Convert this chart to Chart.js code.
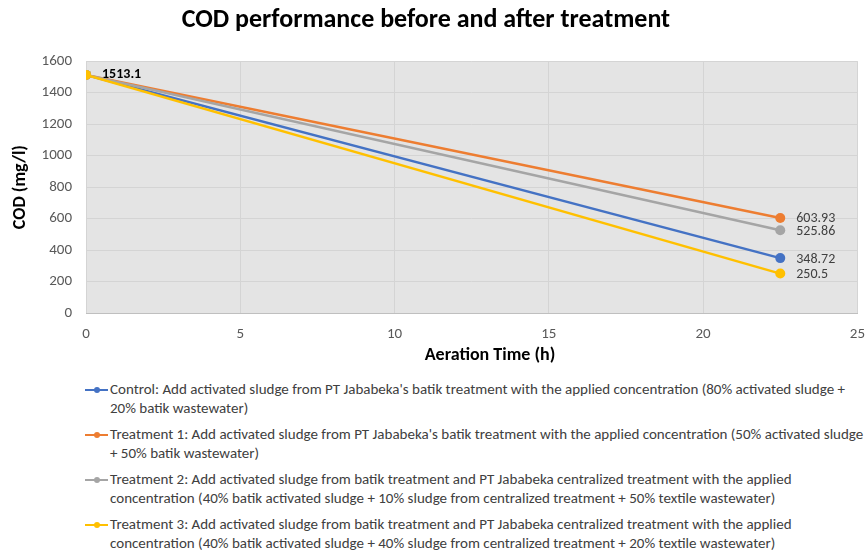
<!DOCTYPE html>
<html>
<head>
<meta charset="utf-8">
<script src="https://cdn.jsdelivr.net/npm/chart.js@4.4.1/dist/chart.umd.min.js"></script>
<style>
  html, body { margin: 0; padding: 0; background: #fff; overflow: hidden; }
  #wrap { position: relative; width: 867px; height: 551px; overflow: hidden; }
  #chartBox { position: absolute; left: 0; top: 0; width: 877px; height: 370px; }
  #legend { position: absolute; left: 84px; top: 380px; width: 783px;
    font-family: 'Carlito', 'Liberation Sans Narrow', 'Liberation Sans', sans-serif;
    font-size: 15px; color: #404040; }
  .item { position: relative; padding-left: 26px; line-height: 19px; margin-bottom: 7px; white-space: pre-line; }
  .item .mk { position: absolute; left: 1px; top: 9px; width: 23px; height: 2px; }
  .item .mk i { position: absolute; left: 9px; top: -2px; width: 6px; height: 6px; border-radius: 50%; }
</style>
</head>
<body>
<div id="wrap">
  <div id="chartBox"><canvas id="chart"></canvas></div>
  <div id="legend"></div>
</div>
<script>
// ---- data ----
const aerationHours = [0, 22.5];
const controlCOD = [1513.1, 348.72];
const treatment1COD = [1513.1, 603.93];
const treatment2COD = [1513.1, 525.86];
const treatment3COD = [1513.1, 250.5];

const seriesLabels = [
  "Control: Add activated sludge from PT Jababeka's batik treatment with the applied concentration (80% activated sludge +\n20% batik wastewater)",
  "Treatment 1: Add activated sludge from PT Jababeka's batik treatment with the applied concentration (50% activated sludge\n+ 50% batik wastewater)",
  "Treatment 2: Add activated sludge from batik treatment and PT Jababeka centralized treatment with the applied\nconcentration (40% batik activated sludge + 10% sludge from centralized treatment + 50% textile wastewater)",
  "Treatment 3: Add activated sludge from batik treatment and PT Jababeka centralized treatment with the applied\nconcentration (40% batik activated sludge + 40% sludge from centralized treatment + 20% textile wastewater)"
];
const seriesColors = ['#4472c4', '#ed7d31', '#a5a5a5', '#ffc000'];
const seriesValues = [controlCOD, treatment1COD, treatment2COD, treatment3COD];

const fontFamily = "'Carlito', 'Liberation Sans', sans-serif";

// build points
function toPoints(values) {
  return values.map((v, i) => ({ x: aerationHours[i], y: v }));
}

// draws the value labels next to the first and last points
const valueLabels = {
  id: 'valueLabels',
  afterDatasetsDraw(chart) {
    const ctx = chart.ctx;
    ctx.save();
    ctx.textBaseline = 'middle';
    ctx.textAlign = 'left';
    chart.data.datasets.forEach((ds, di) => {
      const meta = chart.getDatasetMeta(di);
      const last = meta.data[meta.data.length - 1];
      ctx.font = '14px ' + fontFamily;
      ctx.fillStyle = '#404040';
      ctx.fillText(String(ds.data[ds.data.length - 1].y), last.x + 16, last.y + 1);
      if (di === 0) {
        const first = meta.data[0];
        ctx.font = 'bold 14px ' + fontFamily;
        ctx.fillStyle = '#000';
        ctx.fillText(String(ds.data[0].y), first.x + 16, first.y);
      }
    });
    ctx.restore();
  }
};

// grey plot area
const plotBg = {
  id: 'plotBg',
  beforeDraw(chart) {
    const a = chart.chartArea;
    chart.ctx.save();
    chart.ctx.fillStyle = '#e4e4e4';
    chart.ctx.fillRect(a.left, a.top, a.right - a.left, a.bottom - a.top);
    chart.ctx.restore();
  }
};

new Chart(document.getElementById('chart'), {
  type: 'line',
  data: {
    datasets: seriesValues.map((vals, i) => ({
      label: seriesLabels[i],
      data: toPoints(vals),
      borderColor: seriesColors[i],
      backgroundColor: seriesColors[i],
      borderWidth: 2.5,
      pointRadius: 5,
      pointBorderWidth: 0,
      order: 3 - i
    }))
  },
  plugins: [plotBg, valueLabels],
  options: {
    responsive: true,
    maintainAspectRatio: false,
    animation: false,
    layout: { padding: { left: 10, right: 0, top: 4, bottom: 0 } },
    plugins: {
      legend: { display: false },
      tooltip: { enabled: false },
      title: {
        display: true,
        // trailing spaces pull the title a little left, as in the original
        text: 'COD performance before and after treatment      ',
        color: '#000',
        font: { family: fontFamily, size: 26, weight: 'bold' },
        padding: { top: 1, bottom: 25 }
      }
    },
    scales: {
      x: {
        type: 'linear',
        min: 0, max: 25,
        ticks: { stepSize: 5, color: '#595959', font: { family: fontFamily, size: 15 }, padding: 12 },
        grid: { color: '#d4d4d4', drawTicks: false },
        border: { color: '#bfbfbf' },
        // leading spaces nudge the title right, as in the original
        title: { display: true, text: '         Aeration Time (h)', color: '#000', font: { family: fontFamily, size: 18, weight: 'bold' }, padding: { top: 3 } },
        afterFit: (s) => { s.height = 57; }
      },
      y: {
        min: 0, max: 1600,
        ticks: { stepSize: 200, color: '#595959', font: { family: fontFamily, size: 15 }, padding: 14,
          callback: (v) => String(v) },
        grid: { color: '#d4d4d4', drawTicks: false },
        border: { display: false },
        title: { display: true, text: 'COD (mg/l)', color: '#000', font: { family: fontFamily, size: 18, weight: 'bold' }, padding: { top: 0, bottom: 0 } },
        afterFit: (s) => { s.width = 76; }
      }
    }
  }
});

// legend below the chart
const legendEl = document.getElementById('legend');
seriesLabels.forEach((txt, i) => {
  const item = document.createElement('div');
  item.className = 'item';
  const mk = document.createElement('span');
  mk.className = 'mk';
  mk.style.background = seriesColors[i];
  const dot = document.createElement('i');
  dot.style.background = seriesColors[i];
  mk.appendChild(dot);
  item.appendChild(mk);
  item.appendChild(document.createTextNode(txt));
  legendEl.appendChild(item);
});
</script>
</body>
</html>
